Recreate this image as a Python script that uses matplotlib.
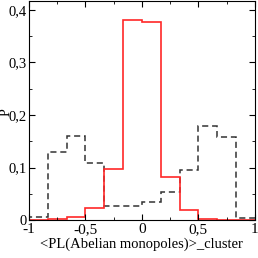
import numpy as np
import matplotlib
matplotlib.use("Agg")
import matplotlib.pyplot as plt
from matplotlib.ticker import MultipleLocator, FuncFormatter

# bin edges: 12 bins of width 1/6 over [-1, 1]
edges = np.linspace(-1, 1, 13)

# red solid histogram
p_red = [0.0, 0.002, 0.005, 0.023, 0.097, 0.381, 0.377, 0.082, 0.019, 0.002, 0.0, 0.0]
# black dashed histogram
p_dash = [0.005, 0.130, 0.160, 0.109, 0.026, 0.027, 0.035, 0.054, 0.095, 0.180, 0.159, 0.004]

plt.rcParams['font.family'] = ['Liberation Serif', 'DejaVu Serif']

fig = plt.figure(figsize=(2.58, 2.58), dpi=100)
ax = fig.add_axes([0.112, 0.147, 0.876, 0.849])

ax.stairs(p_dash, edges, color='#333333', linestyle=(0, (4, 2.5)), linewidth=1.1)
ax.stairs(p_red, edges, color='#ff2828', linewidth=1.2)

ax.set_xlim(-1, 1)
ax.set_ylim(0, 0.417)
ax.xaxis.set_major_locator(MultipleLocator(0.5))
ax.xaxis.set_minor_locator(MultipleLocator(0.25))
ax.yaxis.set_major_locator(MultipleLocator(0.1))
ax.yaxis.set_minor_locator(MultipleLocator(0.05))


# decimal comma labels, plain hyphen for minus
def comma(v, pos):
    if abs(v) < 1e-9:
        return "0"
    if abs(v - round(v)) < 1e-9:
        return "%d" % round(v)
    return ("%.1f" % v).replace(".", ",")


ax.xaxis.set_major_formatter(FuncFormatter(comma))
ax.yaxis.set_major_formatter(FuncFormatter(comma))
ax.tick_params(which='both', direction='in', top=True, right=True, labelsize=11, pad=2)
ax.tick_params(axis='y', labelsize=10.5, pad=1.5)
ax.tick_params(which='major', length=4)
ax.tick_params(which='minor', length=2)
for s in ax.spines.values():
    s.set_linewidth(0.8)

ax.set_xlabel("<PL(Abelian monopoles)>_cluster", fontsize=10.5, labelpad=1)
# y label sits right at the figure edge, as in the original
fig.text(0.0, 0.566, "P", rotation=90, fontsize=10, ha='left', va='center')

fig.savefig("out.png", dpi=100)
